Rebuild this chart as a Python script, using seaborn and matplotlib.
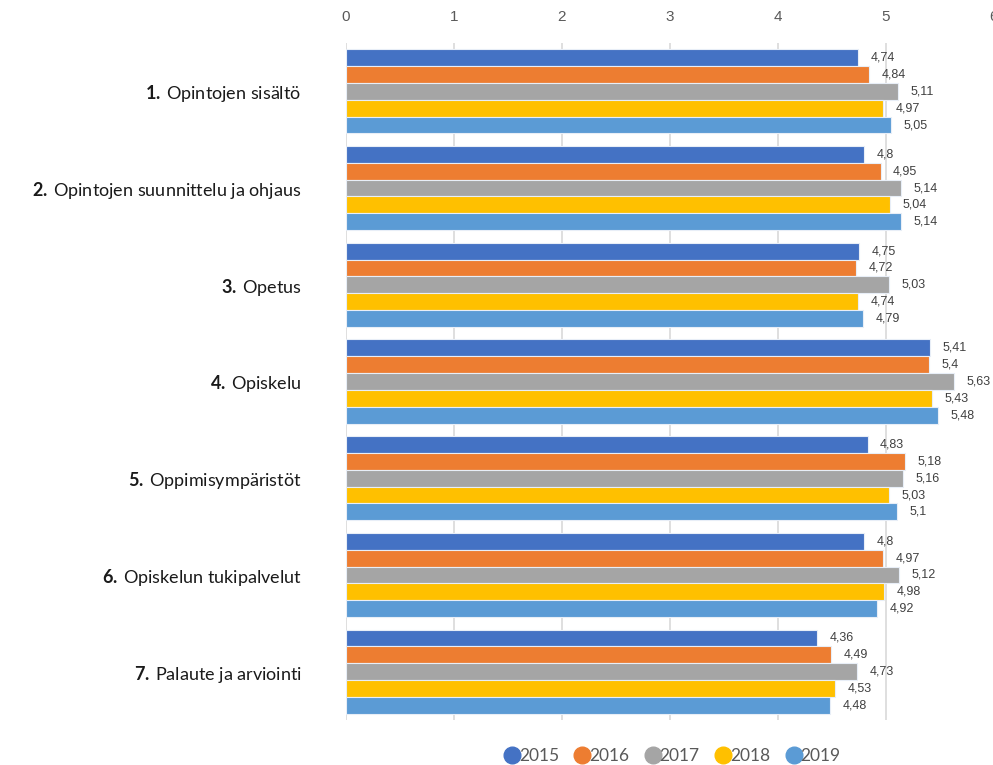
import matplotlib
matplotlib.use("Agg")
import matplotlib.pyplot as plt
from matplotlib.lines import Line2D
import seaborn as sns
import pandas as pd

categories = [
    ("1.", "Opintojen sisältö"),
    ("2.", "Opintojen suunnittelu ja ohjaus"),
    ("3.", "Opetus"),
    ("4.", "Opiskelu"),
    ("5.", "Oppimisympäristöt"),
    ("6.", "Opiskelun tukipalvelut"),
    ("7.", "Palaute ja arviointi"),
]
years = ["2015", "2016", "2017", "2018", "2019"]
v2015 = [4.74, 4.80, 4.75, 5.41, 4.83, 4.80, 4.36]
v2016 = [4.84, 4.95, 4.72, 5.40, 5.18, 4.97, 4.49]
v2017 = [5.11, 5.14, 5.03, 5.63, 5.16, 5.12, 4.73]
v2018 = [4.97, 5.04, 4.74, 5.43, 5.03, 4.98, 4.53]
v2019 = [5.05, 5.14, 4.79, 5.48, 5.10, 4.92, 4.48]
colors = ["#4472C4", "#ED7D31", "#A5A5A5", "#FFC000", "#5B9BD5"]
xticks = [0, 1, 2, 3, 4, 5, 6]

series = [v2015, v2016, v2017, v2018, v2019]
cat_names = [f"{n} {t}" for n, t in categories]
rows = []
for year, vals in zip(years, series):
    for cat, v in zip(cat_names, vals):
        rows.append({"Osa-alue": cat, "Vuosi": year, "Arvo": v})
df = pd.DataFrame(rows)

sns.set_theme(style="white")
plt.rcParams["font.family"] = ["Lato", "DejaVu Sans"]
plt.rcParams["mathtext.fontset"] = "custom"
plt.rcParams["mathtext.bf"] = "Lato:bold"
plt.rcParams["mathtext.rm"] = "Lato"

fig = plt.figure(figsize=(9.93, 7.65), dpi=100)
ax = fig.add_axes([346 / 993, 1 - 720 / 765, (994 - 346) / 993, (720 - 43) / 765])

sns.barplot(data=df, y="Osa-alue", x="Arvo", hue="Vuosi", order=cat_names,
            hue_order=years, palette=colors, orient="h", width=0.87,
            edgecolor="#e8eef7", linewidth=0.8, saturation=1, ax=ax, legend=False)

ax.set_xlim(0, 6)
ax.set_xticks(xticks)
ax.xaxis.tick_top()
ax.tick_params(axis="x", which="both", length=0, pad=14, labelsize=11, labelcolor="#595959")
for lab in ax.get_xticklabels():
    lab.set_family(["Liberation Sans", "DejaVu Sans"])
ax.grid(axis="x", color="#d9d9d9", linewidth=1.2)
ax.set_axisbelow(True)
for s in ax.spines.values():
    s.set_visible(False)
ax.set_xlabel("")
ax.set_ylabel("")

ax.set_yticks(range(len(categories)))
ax.set_yticklabels([rf"$\bf{{{n[:-1]}.}}\,$" + t for n, t in categories])
ax.tick_params(axis="y", length=0, pad=32, labelsize=13, labelcolor="#1a1a1a")

for cont, vals in zip(ax.containers, series):
    labels = [f"{v:g}".replace(".", ",") for v in vals]
    ax.bar_label(cont, labels=labels, padding=9, fontsize=9, color="#404040",
                 family=["Liberation Sans", "DejaVu Sans"])

handles = [Line2D([], [], marker="o", linestyle="none", markersize=12,
                  markerfacecolor=c, markeredgecolor=c) for c in colors]
fig.legend(handles, years, loc="center", bbox_to_anchor=(672 / 993, 1 - 756 / 765),
           ncol=5, frameon=False, handletextpad=-0.1, columnspacing=0.85,
           fontsize=12.5, labelcolor="#595959", handlelength=1.0)

fig.savefig("out.png", dpi=100)
